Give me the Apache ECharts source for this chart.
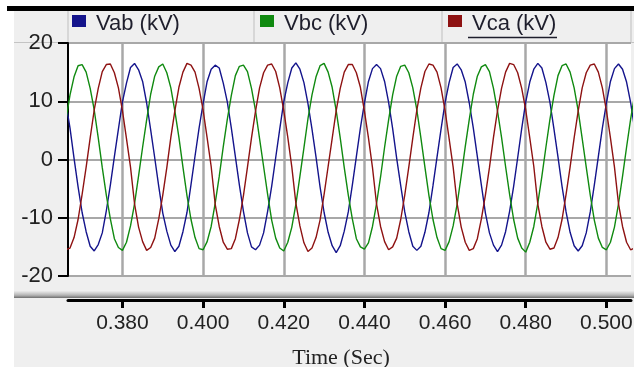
<!DOCTYPE html>
<html>
<head>
<meta charset="utf-8">
<script src="https://cdn.jsdelivr.net/npm/echarts@6/dist/echarts.min.js"></script>
<style>
  html, body { margin: 0; padding: 0; background: #fff; }
  #chart { width: 634px; height: 367px; }
</style>
</head>
<body>
<div id="chart"></div>
<script>
// series names + sampling of the time axis (1 ms steps)
const seriesNames = ['Vab (kV)', 'Vbc (kV)', 'Vca (kV)'];
const timeStart = 0.366;
const timeStep = 0.001;
const xTicks = [0.38, 0.40, 0.42, 0.44, 0.46, 0.48, 0.50];

// voltages in kV, one value per ms
const vab = [9.6,5.4,0.2,-4.7,-9.1,-12.4,-14.9,-15.7,-14.6,-12.6,-8.8,-4.4,0.5,5.2,9.9,13.1,15.8,
  16.5,15.4,13.4,9.7,5.1,0.3,-4.6,-9.2,-12.3,-14.7,-15.8,-14.9,-12.4,-9.1,-4.3,0.6,5.4,9.6,13.4,15.5,
  16.2,15.7,13.1,9.9,5.4,0.5,-4.4,-8.9,-12.6,-15.0,-15.5,-14.7,-12.6,-8.9,-4.6,0.3,5.2,9.9,13.2,15.7,
  16.6,15.5,13.2,9.6,5.2,0.4,-4.7,-9.1,-12.5,-14.8,-16.0,-14.8,-12.3,-9.0,-4.4,0.5,5.4,9.7,13.4,15.6,
  16.3,15.6,13.4,9.8,5.3,0.2,-4.5,-9.0,-12.4,-14.9,-15.6,-14.9,-12.5,-9.1,-4.5,0.4,5.2,9.8,13.2,15.8,
  16.4,15.4,13.3,9.7,5.4,0.5,-4.4,-9.2,-12.6,-14.7,-15.8,-14.7,-12.4,-8.9,-4.6,0.3,5.3,9.9,13.3,15.5,
  16.5,15.7,13.2,9.8,5.2,0.4,-4.6,-9.0,-12.5,-14.8,-15.7,-14.8,-12.6,-9.0,-4.4,0.5,5.4,9.7,13.4,15.6,
  16.4,15.5,13.3,9.8,5.3];
const vbc = [6.9,11.1,14.2,16.1,16.3,15.0,12.2,8.5,3.7,-1.4,-6.1,-10.2,-13.6,-15.1,-15.6,-14.2,-11.4,
  -7.6,-2.8,2.1,6.8,11.2,14.3,15.9,16.4,14.9,12.3,8.3,3.8,-1.3,-6.2,-10.3,-13.4,-15.3,-15.5,-14.1,-11.5,
  -7.5,-2.9,2.2,6.9,11.0,14.4,16.0,16.2,15.1,12.2,8.4,3.6,-1.2,-6.0,-10.4,-13.5,-15.2,-15.7,-14.2,-11.6,
  -7.7,-2.9,2.0,7.0,11.1,14.2,16.1,16.5,15.0,12.4,8.4,3.7,-1.4,-6.1,-10.2,-13.6,-15.0,-15.4,-14.3,-11.5,
  -7.6,-3.0,2.1,6.8,11.1,14.3,16.0,16.2,14.9,12.3,8.5,3.7,-1.3,-6.2,-10.3,-13.4,-15.3,-15.6,-14.1,-11.4,
  -7.6,-2.8,2.2,6.9,11.2,14.3,15.9,16.3,15.1,12.2,8.3,3.8,-1.2,-6.0,-10.3,-13.5,-15.2,-15.9,-14.2,-11.5,
  -7.5,-2.9,2.1,6.9,11.0,14.4,16.1,16.4,15.0,12.3,8.4,3.6,-1.3,-6.1,-10.4,-13.5,-15.1,-15.5,-14.2,-11.6,
  -7.6,-2.9,2.1,6.9,11.1];
const vca = [-15.5,-15.2,-13.4,-10.3,-6.0,-1.3,3.7,8.5,12.2,15.1,16.3,16.4,14.9,12.3,8.4,3.6,-1.3,
  -7.6,-11.6,-14.1,-15.6,-15.1,-13.5,-10.2,-6.1,-1.4,3.8,8.4,12.4,15.0,16.5,16.2,15.0,12.2,8.5,3.7,-1.2,
  -7.7,-11.5,-14.2,-15.4,-15.3,-13.6,-10.3,-6.2,-1.3,3.7,8.3,12.3,14.9,16.2,16.4,15.1,12.3,8.4,3.8,-1.3,
  -7.5,-11.4,-14.3,-15.8,-15.2,-13.4,-10.4,-6.0,-1.2,3.6,8.4,12.2,15.0,16.3,16.3,14.9,12.4,8.3,3.7,-1.4,
  -7.6,-11.5,-14.1,-15.5,-15.0,-13.5,-10.3,-6.1,-1.3,3.7,8.5,12.3,15.1,16.4,16.2,15.0,12.3,8.4,3.6,-1.3,
  -7.6,-11.6,-14.2,-15.6,-15.3,-13.6,-10.2,-6.1,-1.4,3.8,8.4,12.2,15.0,16.5,16.3,14.9,12.2,8.5,3.7,-1.2,
  -7.7,-11.5,-14.2,-15.4,-15.2,-13.4,-10.3,-6.0,-1.3,3.7,8.3,12.3,14.9,16.2,16.4,15.0,12.3,8.4,3.7,-1.3,
  -7.6,-11.5,-14.2,-15.5,-15.2];

const colors = ['#14148c', '#108a10', '#8e1212'];

const chart = echarts.init(document.getElementById('chart'));

function toPairs(vals) {
  return vals.map((v, i) => [+(timeStart + i * timeStep).toFixed(4), v]);
}

const labelFont = 'Liberation Sans, Arial, sans-serif';

const legends = seriesNames.map((name, i) => ({
  data: [name],
  left: [72, 260, 448][i],
  top: 13,
  padding: 0,
  icon: 'rect',
  itemWidth: 14,
  itemHeight: 12,
  selectedMode: false,
  formatter: (n) => '{t|' + n + '}',
  textStyle: {
    rich: { t: { fontSize: 22, color: '#1e1e2c', fontFamily: labelFont, padding: [6, 0, 0, 5] } }
  }
}));

const option = {
  animation: false,
  backgroundColor: '#fff',
  color: colors,
  legend: legends,
  grid: {
    left: 68, top: 43, right: 3, bottom: 91,
    outerBoundsMode: 'none',
    show: true, backgroundColor: '#fff', borderWidth: 0
  },
  graphic: [
    { type: 'rect', z: -10, shape: { x: 14, y: 11, width: 620, height: 356 }, style: { fill: '#efefef' } },
    { type: 'rect', z: -5, shape: { x: 7, y: 6, width: 627, height: 5 }, style: { fill: '#000' } },
    { type: 'line', z: -5, shape: { x1: 14, y1: 42.5, x2: 634, y2: 42.5 }, style: { stroke: '#c4c4c4', lineWidth: 1 } },
    { type: 'line', z: -5, shape: { x1: 68, y1: 11, x2: 68, y2: 43 }, style: { stroke: '#cfcfcf', lineWidth: 1.5 } },
    { type: 'line', z: -5, shape: { x1: 254, y1: 11, x2: 254, y2: 43 }, style: { stroke: '#cfcfcf', lineWidth: 1.5 } },
    { type: 'line', z: -5, shape: { x1: 442, y1: 11, x2: 442, y2: 43 }, style: { stroke: '#cfcfcf', lineWidth: 1.5 } },
    { type: 'line', z: -5, shape: { x1: 631, y1: 11, x2: 631, y2: 43 }, style: { stroke: '#cfcfcf', lineWidth: 1.5 } },
    {
      type: 'rect', z: -5, shape: { x: 14, y: 291, width: 620, height: 7 },
      style: { fill: new echarts.graphic.LinearGradient(0, 0, 0, 1, [
        { offset: 0, color: '#ececec' }, { offset: 0.6, color: '#b4b4b4' }, { offset: 1, color: '#6e6e6e' }
      ]) }
    },
    { type: 'line', z: 10, shape: { x1: 468, y1: 37.5, x2: 557, y2: 37.5 }, style: { stroke: '#1e1e2c', lineWidth: 1.5 } }
  ],
  xAxis: {
    type: 'value',
    min: 0.3665,
    max: 0.5061,
    offset: 24,
    axisLine: { show: true, onZero: false, lineStyle: { color: '#000', width: 3 } },
    axisTick: { show: true, length: 8, customValues: xTicks, lineStyle: { color: '#000', width: 3 } },
    axisLabel: {
      customValues: xTicks,
      formatter: (v) => v.toFixed(3),
      fontSize: 21, color: '#222', margin: 13, fontFamily: labelFont
    },
    splitLine: { show: true, lineStyle: { color: '#a8a8a8', width: 2.5 } },
    name: 'Time (Sec)',
    nameLocation: 'middle',
    nameGap: 47,
    nameTextStyle: { fontFamily: 'Liberation Serif, Times New Roman, serif', fontSize: 22, color: '#222', padding: [0, 17, 0, 0] }
  },
  yAxis: {
    type: 'value',
    min: -20,
    max: 20,
    interval: 10,
    axisLine: { show: true, lineStyle: { color: '#000', width: 2 } },
    axisTick: { show: true, length: 10, lineStyle: { color: '#000', width: 2 } },
    axisLabel: { fontSize: 22, color: '#222', margin: 15, fontFamily: labelFont },
    splitLine: { show: true, lineStyle: { color: '#a8a8a8', width: 2 } }
  },
  series: [vab, vbc, vca].map((vals, i) => ({
    name: seriesNames[i],
    type: 'line',
    data: toPairs(vals),
    showSymbol: false,
    symbol: 'none',
    lineStyle: { color: colors[i], width: 1.4 },
    itemStyle: { color: colors[i] },
    z: 3
  }))
};

chart.setOption(option);
</script>
</body>
</html>
